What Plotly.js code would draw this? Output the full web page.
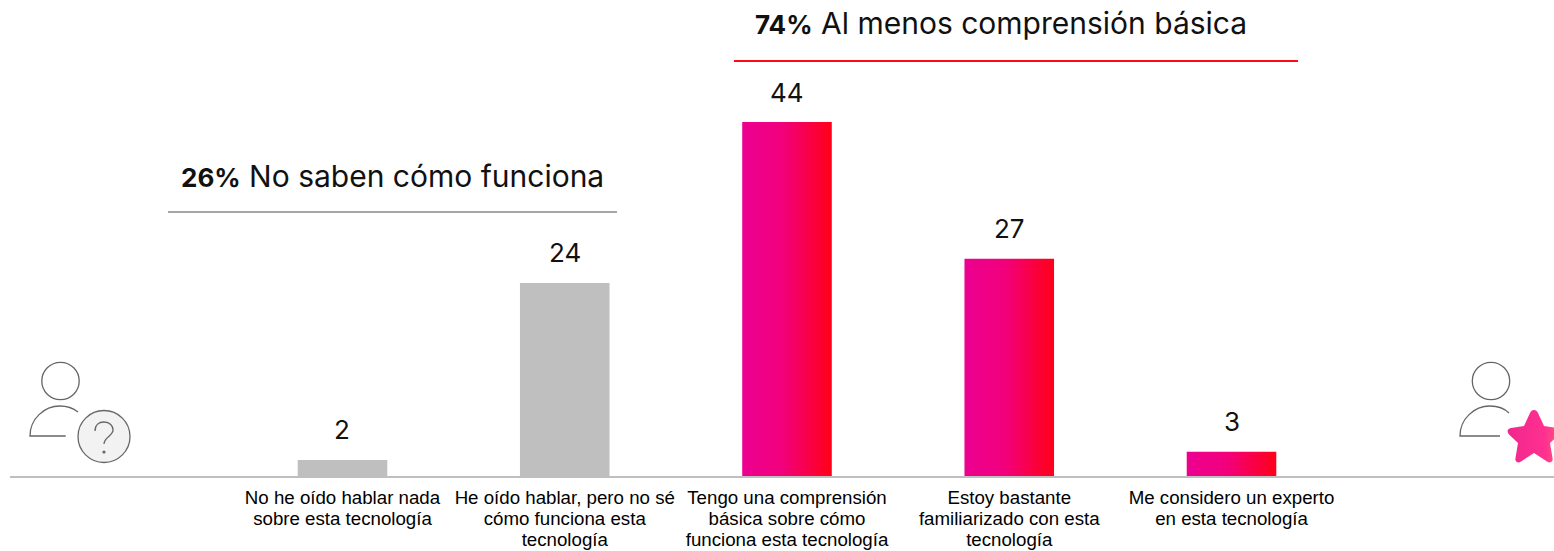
<!DOCTYPE html>
<html><head><meta charset="utf-8">
<script src="https://cdn.plot.ly/plotly-3.0.1.min.js"></script>
<style>html,body{margin:0;padding:0;background:#fff;overflow:hidden}</style>
</head><body><div id="chart" style="width:1554px;height:551px"></div>
<script>
var categories = [
  "No he oído hablar nada<br>sobre esta tecnología",
  "He oído hablar, pero no sé<br>cómo funciona esta<br>tecnología",
  "Tengo una comprensión<br>básica sobre cómo<br>funciona esta tecnología",
  "Estoy bastante<br>familiarizado con esta<br>tecnología",
  "Me considero un experto<br>en esta tecnología"
];
var values = [2, 24, 44, 27, 3];
var barColors = ["#bfbfbf", "#bfbfbf", "#f0007f", "#f0007f", "#f0007f"];
var groupHeaders = [
  {bold: "26%", text: " No saben cómo funciona", left: 179, top: 176},
  {bold: "74%", text: " Al menos comprensión básica", left: 753, top: 23}
];
var W = 1554, H = 551, BASE = 476, ML = 10;
var HEAD = "Inter, 'Open Sans', sans-serif";
function px(x){ return (x - ML) / (W - ML); }
function py(y){ return 1 - y / BASE; }

var leftIcon = "<svg xmlns='http://www.w3.org/2000/svg' width='120' height='115' viewBox='0 0 120 115'><g fill='none' stroke='#666' stroke-width='1.3'><circle cx='40.5' cy='26' r='18.7'/><path d='M45.7 81 H10 C10 64 24 51 40 51 C47 51 53 53 58 57'/><circle cx='84' cy='81.5' r='26' fill='#f2f2f2'/><path d='M75 76 C75 70 79 67 84 67 C90 67 93 71 93 75 C93 81 84 82 84 89'/></g><circle cx='84' cy='97' r='1.6' fill='#666'/></svg>";
var rightIcon = "<svg xmlns='http://www.w3.org/2000/svg' width='110' height='115' viewBox='0 0 110 115'><defs><linearGradient id='s'><stop offset='0' stop-color='#f0288c'/><stop offset='0.7' stop-color='#ff3090'/><stop offset='1' stop-color='#ff5a78'/></linearGradient></defs><g fill='none' stroke='#666' stroke-width='1.3'><circle cx='41' cy='26' r='18.7'/><path d='M50 81 H10 C10 64 24 51 40 51 C47 51 54 53 59 58'/></g><path d='M84 55 C86 55 87 56 88 58 L94 71 L107 73 C111 74 111.5 77 108.5 80 L100 88 L102.5 103 C103.5 107 100 108.5 97 106.5 L84 98 L71 106.5 C68 108.5 64.5 107 65.5 103 L68 88 L59.5 80 C56.5 77 57 74 61 73 L74 71 L80 58 C81 56 82 55 84 55 Z' fill='url(#s)'/></svg>";
function uri(s){ return "data:image/svg+xml;charset=utf-8," + encodeURIComponent(s); }

var valueAnns = categories.map(function(c,i){
  return {x:i, y:values[i], xref:"x", yref:"y", text:String(values[i]), showarrow:false,
    xanchor:"center", yanchor:"middle", yshift:30, font:{family:HEAD,size:26,color:"#111"}};
});
var headerAnns = groupHeaders.map(function(g){
  return {x:px(g.left), y:py(g.top), xref:"paper", yref:"paper", xanchor:"left", yanchor:"middle",
    showarrow:false, text:"<b><span style='font-size:26px'>"+g.bold+"</span></b>"+g.text, font:{family:HEAD,size:30,color:"#111"}};
});
function rule(x0,x1,y,c){ return {type:"line",xref:"paper",yref:"paper",x0:px(x0),x1:px(x1),y0:py(y),y1:py(y),line:{color:c,width:2}}; }

Plotly.newPlot("chart",[{
  type:"bar", x:categories, y:values, width:0.403,
  marker:{color:barColors, line:{width:0}}, hoverinfo:"x+y", cliponaxis:false
}],{
  width:W, height:H, showlegend:false, paper_bgcolor:"#fff", plot_bgcolor:"#fff",
  margin:{l:ML,r:0,t:0,b:H-BASE,pad:0},
  xaxis:{type:"category",categoryorder:"array",categoryarray:categories,range:[-1.496,5.451],
    showgrid:false,zeroline:false,showline:true,linecolor:"#bfbfbf",linewidth:2,ticks:"",ticklabelstandoff:4,
    tickangle:0,tickfont:{family:"'Liberation Sans', Arial, sans-serif",size:18.7,color:"#000"}},
  yaxis:{range:[0,59.17],visible:false,fixedrange:true},
  annotations:valueAnns.concat(headerAnns),
  shapes:[rule(168,617,212,"#a6a6a6"),rule(734,1298,61,"#ff0a14")],
  images:[
    {source:uri(leftIcon),xref:"paper",yref:"paper",x:px(20),y:py(355),sizex:120/(W-ML),sizey:115/BASE,xanchor:"left",yanchor:"top",sizing:"stretch",layer:"above"},
    {source:uri(rightIcon),xref:"paper",yref:"paper",x:px(1450),y:py(355),sizex:110/(W-ML),sizey:115/BASE,xanchor:"left",yanchor:"top",sizing:"stretch",layer:"above"}
  ]
},{displayModeBar:false,staticPlot:true}).then(function(gd){
  var svg = gd.querySelector("svg.main-svg");
  var NS = "http://www.w3.org/2000/svg";
  var defs = svg.querySelector("defs") || svg.insertBefore(document.createElementNS(NS,"defs"),svg.firstChild);
  var lg = document.createElementNS(NS,"linearGradient");
  lg.setAttribute("id","barGrad");
  [[0,"#ec0090"],[0.45,"#f2007c"],[1,"#ff0018"]].forEach(function(s){
    var st = document.createElementNS(NS,"stop");
    st.setAttribute("offset",s[0]); st.setAttribute("stop-color",s[1]); lg.appendChild(st);
  });
  defs.appendChild(lg);
  gd.querySelectorAll(".barlayer .point path").forEach(function(p,i){
    if(barColors[i] !== "#bfbfbf") p.style.fill = "url(#barGrad)";
  });
  gd.querySelectorAll(".xtick text").forEach(function(t){
    t.querySelectorAll("tspan.line").forEach(function(s,i){
      if(i>0) s.setAttribute("dy", (21*i)+"px");
    });
  });
});
</script></body></html>
